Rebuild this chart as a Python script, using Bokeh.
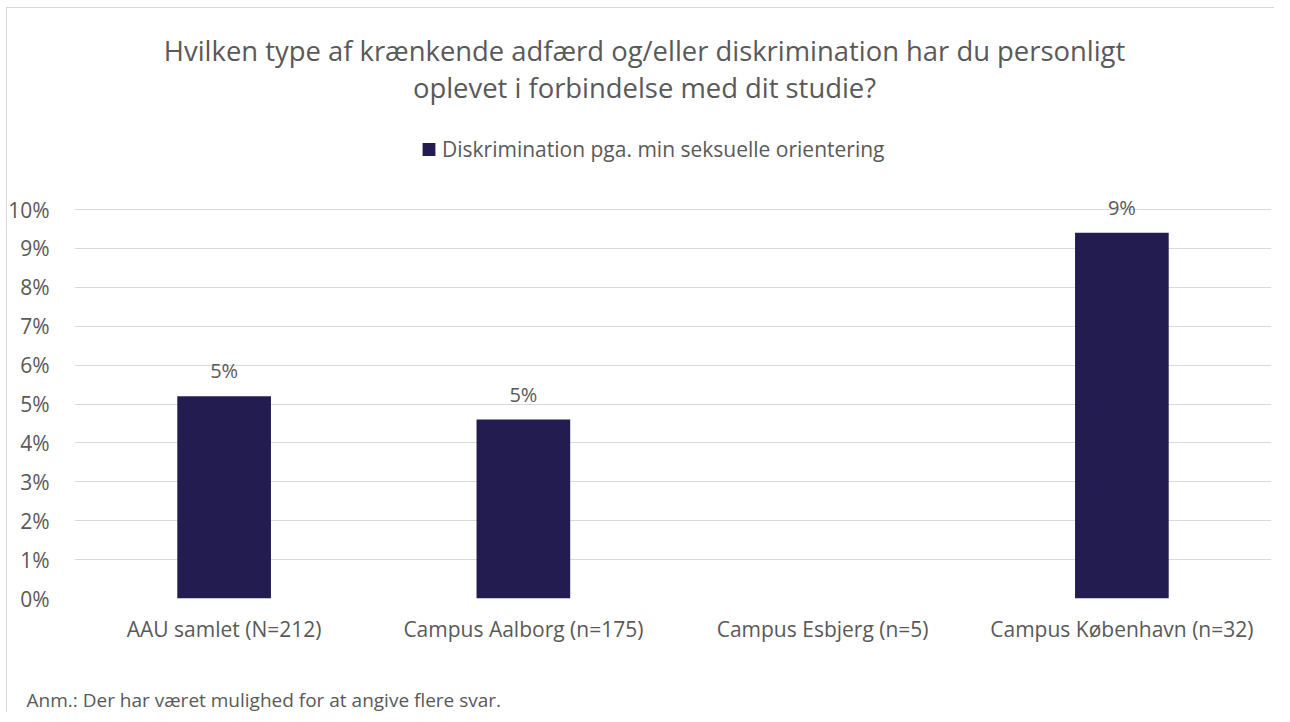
from bokeh.plotting import figure
from bokeh.models import (FactorRange, Range1d, ColumnDataSource, LabelSet, Label, Title,
                          Legend, LegendItem, PrintfTickFormatter, FixedTicker)
from bokeh.core.properties import value
from bokeh.embed import file_html
from bokeh.resources import INLINE

# ---------------- data ----------------
title_lines = ["Hvilken type af krænkende adfærd og/eller diskrimination har du personligt",
               "oplevet i forbindelse med dit studie?"]
series_name = "Diskrimination pga. min seksuelle orientering"
categories = ["AAU samlet (N=212)", "Campus Aalborg (n=175)",
              "Campus Esbjerg (n=5)", "Campus København (n=32)"]
values = [5.2, 4.6, 0.0, 9.4]          # percent
y_ticks = [0, 1, 2, 3, 4, 5, 6, 7, 8, 9, 10]
note = "Anm.: Der har været mulighed for at angive flere svar."

labels = [f"{round(v)}%" if v > 0 else "" for v in values]

# ---------------- style / layout ----------------
FONT = "Open Sans"
GREY = "#595959"
GRID = "#d9d9d9"
BAR = "#221C51"

W, H = 1274, 706
FRAME_L, FRAME_R = 74, 1271
ZERO_Y, TOP_Y = 598, 209          # pixel rows of 0 % and 10 %
Y_MAX = 10
ppu = (ZERO_Y - TOP_Y) / Y_MAX     # pixels per percent
px_x = (FRAME_R - FRAME_L) / len(categories)


def xd(px):
    return (px - FRAME_L) / px_x


def yd(py):
    return (ZERO_Y - py) / ppu


# the plot frame reaches the top of the canvas, so title and legend sit inside it
p = figure(x_range=FactorRange(factors=categories),
           y_range=Range1d(0, ZERO_Y / ppu),
           frame_width=FRAME_R - FRAME_L, frame_height=ZERO_Y,
           min_border_left=FRAME_L, min_border_right=W - FRAME_R,
           min_border_top=0, min_border_bottom=H - ZERO_Y,
           output_backend="svg", toolbar_location=None)

p.background_fill_color = "white"
p.border_fill_alpha = 0
p.background_fill_alpha = 0
p.outline_line_color = None
p.styles = {
    "background-color": "white",
    "background-image": ("linear-gradient(#d9d9d9, #d9d9d9), "
                         "linear-gradient(#d9d9d9, #d9d9d9)"),
    "background-position": "6px 7px, 6px 7px",
    "background-size": "1px 100%, 100% 1px",
    "background-repeat": "no-repeat, no-repeat",
}

p.xgrid.visible = False
p.ygrid.grid_line_color = GRID
p.ygrid.grid_line_width = 1

p.yaxis.ticker = FixedTicker(ticks=y_ticks)
p.yaxis.formatter = PrintfTickFormatter(format="%d%%")
for ax in (p.xaxis, p.yaxis):
    ax.axis_line_color = None
    ax.major_tick_line_color = None
    ax.minor_tick_line_color = None
    ax.major_label_text_font = FONT
    ax.major_label_text_color = GREY
p.yaxis.major_label_text_font_size = "21px"
p.yaxis.major_label_standoff = 19
p.xaxis.major_label_text_font_size = "21px"
p.xaxis.major_label_standoff = 10

src = ColumnDataSource(dict(cat=categories, val=values, lab=labels))
bars = p.vbar(x="cat", top="val", width=0.313, source=src,
              fill_color=BAR, line_color=None)

p.add_layout(LabelSet(x="cat", y="val", text="lab", source=src, y_offset=18,
                      text_align="center", text_baseline="alphabetic",
                      text_font=value(FONT), text_font_size=value("20px"),
                      text_color=GREY))

# title (two centred lines)
for line, base in zip(title_lines, [50, 87]):
    p.add_layout(Label(x=xd(644), y=yd(base), text=line, text_align="center",
                       text_baseline="alphabetic", text_font=FONT,
                       text_font_size="27.4px", text_color=GREY))

# legend at the top of the frame
legend = Legend(items=[LegendItem(label=series_name, renderers=[bars])],
                location="top_center", orientation="horizontal",
                padding=0, margin=134, spacing=0,
                glyph_width=16, glyph_height=16, label_standoff=6,
                label_height=29, label_width=483,
                label_text_font=FONT, label_text_font_size="21px",
                label_text_color=GREY,
                border_line_color=None, background_fill_alpha=0)
p.add_layout(legend)

# footnote below the category labels
p.add_layout(Title(text=" ", text_font_size="1px", standoff=36), "below")
p.add_layout(Title(text=note, align="left", offset=26 - FRAME_L, standoff=0,
                   text_font=FONT, text_font_size="19px", text_font_style="normal",
                   text_color=GREY), "below")

open("out.html", "w").write(file_html(p, INLINE))
